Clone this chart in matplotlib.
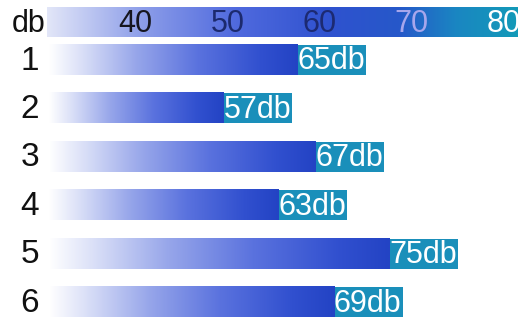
import numpy as np
import matplotlib
matplotlib.use("Agg")
import matplotlib.pyplot as plt
from matplotlib.colors import LinearSegmentedColormap

# ---- data ----
rows = ["1", "2", "3", "4", "5", "6"]
values = [65, 57, 67, 63, 75, 69]
bar_labels = ["65db", "57db", "67db", "63db", "75db", "69db"]
scale_ticks = [40, 50, 60, 70, 80]
scale_tick_labels = ["40", "50", "60", "70", "80"]
unit_label = "db"

# ---- style ----
FONT = ["Liberation Sans", "DejaVu Sans"]
x_left, x_right = 25.24, 81.98
bar_start = 30.6
header_end = 81.5
teal = "#1a8fba"
teal_w = 7.4
bar_h = 0.62

bar_cmap = LinearSegmentedColormap.from_list(
    "bar", [(0.0, "#ffffff"), (0.12, "#dde2f8"), (0.35, "#97a6ea"),
            (0.6, "#5a72de"), (0.85, "#3150cf"), (1.0, "#2343c4")])
head_cmap = LinearSegmentedColormap.from_list(
    "head", [(0.0, "#e2e6f8"), (0.2, "#8d9ee9"), (0.4, "#506ade"),
             (0.6, "#2f52cf"), (0.75, "#2658c9"), (0.87, "#1a86c2"),
             (1.0, "#139ab8")])
tick_colors = ["#16161f", "#1c2a6e", "#1c2a72", "#a7a6ec", "#ffffff"]

fig = plt.figure(figsize=(5.22, 3.21), dpi=100)
ax = fig.add_axes([0, 0, 1, 1])
ax.set_axis_off()

grad = np.linspace(0, 1, 256).reshape(1, -1)

# header scale bar
hy = -0.775
ax.imshow(grad, cmap=head_cmap, aspect="auto", interpolation="bilinear",
          extent=[bar_start - 0.2, header_end, hy + 0.3, hy - 0.3], zorder=1)
ax.text(28.4, hy + 0.03, unit_label, ha="center", va="center", fontsize=22,
        family=FONT, color="#111111", zorder=3)
for t, lab, c in zip(scale_ticks, scale_tick_labels, tick_colors):
    ax.text(t, hy + 0.03, lab, ha="center", va="center", fontsize=22,
            family=FONT, color=c, zorder=3)

# bars
for i, (r, v, lab) in enumerate(zip(rows, values, bar_labels)):
    ax.imshow(grad, cmap=bar_cmap, aspect="auto", interpolation="bilinear",
              extent=[bar_start, v - teal_w, i + bar_h / 2, i - bar_h / 2], zorder=1)
    ax.barh(i, teal_w, left=v - teal_w, height=bar_h, color=teal, zorder=2)
    ax.text(v - 0.12, i + 0.03, lab, ha="right", va="center", fontsize=22,
            family=FONT, color="white", zorder=3)
    ax.text(28.5, i + 0.02, r, ha="center", va="center", fontsize=24,
            family=FONT, color="#111111", zorder=3)

ax.set_xlim(x_left, x_right)
ax.set_ylim(5.39, -1.24)

fig.savefig("out.png", dpi=100)
